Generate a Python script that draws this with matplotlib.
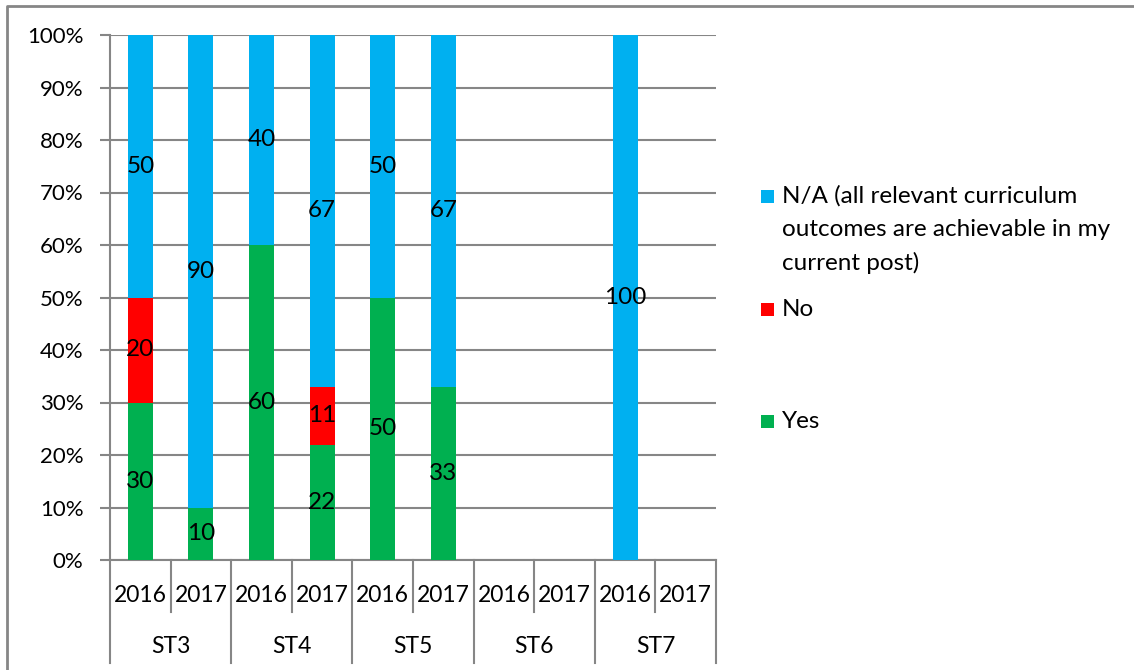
import matplotlib
matplotlib.use("Agg")
import matplotlib.pyplot as plt
from matplotlib.patches import Rectangle
from matplotlib.lines import Line2D
import matplotlib.transforms as mtransforms

plt.rcParams['font.family'] = ['Lato', 'DejaVu Sans']

groups = ["ST3", "ST4", "ST5", "ST6", "ST7"]
years = ["2016", "2017"]
series_names = ["Yes", "No", "N/A (all relevant curriculum\noutcomes are achievable in my\ncurrent post)"]
yes_vals = [30, 10, 60, 22, 50, 33, 0, 0, 0, 0]
no_vals = [20, 0, 0, 11, 0, 0, 0, 0, 0, 0]
na_vals = [50, 90, 40, 67, 50, 67, 0, 0, 100, 0]
colors = ["#00B050", "#FF0000", "#00B0F0"]
grid_color = "#868686"

W, H = 1134, 670
fig = plt.figure(figsize=(W / 100, H / 100), dpi=100)
ax_l, ax_r, ax_t, ax_b = 110, 716, 35, 560
ax = fig.add_axes([ax_l / W, 1 - ax_b / H, (ax_r - ax_l) / W, (ax_b - ax_t) / H])

n = len(yes_vals)
x = list(range(n))
bw = 0.41
bottom = [0] * n
for vals, col, name in zip([yes_vals, no_vals, na_vals], colors, series_names):
    bars = ax.bar(x, vals, bw, bottom=bottom, color=col, label=name, zorder=3)
    labels = [str(v) if v > 0 else "" for v in vals]
    ax.bar_label(bars, labels=labels, label_type="center", fontsize=17.5, color="black", zorder=4)
    bottom = [b + v for b, v in zip(bottom, vals)]

ax.set_xlim(-0.5, n - 0.5)
ax.set_ylim(0, 100)
ax.set_yticks(range(0, 101, 10))
ax.set_yticklabels([f"{v}%" for v in range(0, 101, 10)], fontsize=16)
ax.yaxis.grid(True, color=grid_color, lw=1.5, zorder=0)
ax.tick_params(axis="y", length=7.2, width=1.5, color=grid_color, pad=12)
ax.set_xticks([])
for s in ["top", "right"]:
    ax.spines[s].set_visible(False)
for s in ["left", "bottom"]:
    ax.spines[s].set_color(grid_color)
    ax.spines[s].set_linewidth(1.5)

axh = ax_b - ax_t
trans = mtransforms.blended_transform_factory(ax.transData, ax.transAxes)
y_year = -(602 - ax_b) / axh
y_grp = -(653 - ax_b) / axh
y_inner = -(612 - ax_b) / axh
y_outer = -(663 - ax_b) / axh
for i in range(n):
    ax.text(i, y_year, years[i % 2], transform=trans, ha="center", va="baseline", fontsize=16.5)
for g, name in enumerate(groups):
    ax.text(2 * g + 0.5, y_grp, name, transform=trans, ha="center", va="baseline", fontsize=16.5)
for i in range(n + 1):
    xb = i - 0.5
    y_end = y_outer if i % 2 == 0 else y_inner
    ax.add_line(Line2D([xb, xb], [0, y_end], transform=trans, color=grid_color, lw=1.5, clip_on=False))

# Legend (manual, Excel-like spacing); yb = baseline of the first line
line_px = 33.5
leg_items = [(series_names[2], colors[2], 203), (series_names[1], colors[1], 316), (series_names[0], colors[0], 428)]
for name, col, yb in leg_items:
    fig.patches.append(Rectangle((761 / W, 1 - yb / H), 13 / W, 13 / H, transform=fig.transFigure,
                                 facecolor=col, edgecolor="none"))
    nlines = name.count("\n") + 1
    y_last = yb + (nlines - 1) * line_px
    fig.text(782 / W, 1 - y_last / H, name, ha="left", va="baseline", fontsize=17.5, linespacing=1.68)

# Outer chart border
fig.add_artist(Line2D([7 / W, 7 / W, 1.0], [0.0, 1 - 6 / H, 1 - 6 / H], transform=fig.transFigure,
                      color=grid_color, lw=2))

fig.savefig("out.png", dpi=100)
